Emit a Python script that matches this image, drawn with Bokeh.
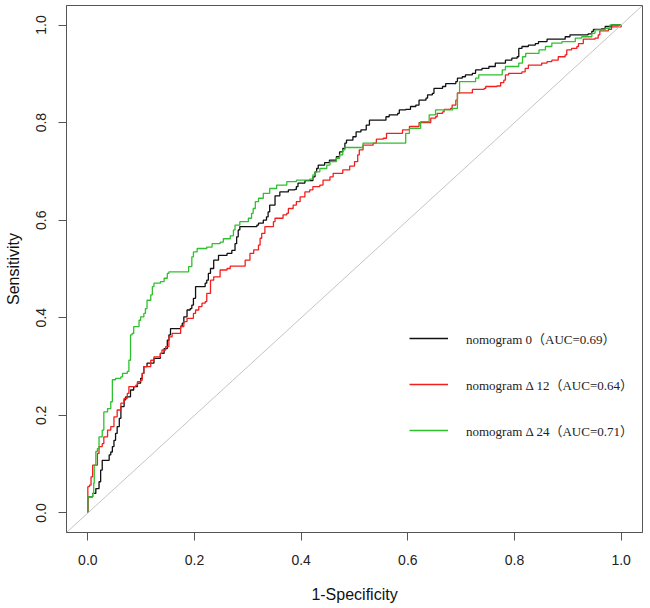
from bokeh.plotting import figure
from bokeh.models import Range1d, FixedTicker, NumeralTickFormatter, Slope, Legend, LegendItem
from bokeh.embed import file_html
from bokeh.resources import INLINE

# ---- data ----
tick_values = [0.0, 0.2, 0.4, 0.6, 0.8, 1.0]
tick_format = "0.0"

legend_labels = ["nomogram 0（AUC=0.69）", "nomogram Δ 12（AUC=0.64）", "nomogram Δ 24（AUC=0.71）"]
series_colors = ["#111111", "#f21f1f", "#2ec02e"]

# (1-specificity, sensitivity)
roc_nomo0 = [(0, 0), (0, 0.033), (0.009, 0.040), (0.015, 0.050), (0.021, 0.064), (0.024, 0.088),
             (0.027, 0.108), (0.040, 0.119), (0.043, 0.125), (0.046, 0.136), (0.049, 0.149),
             (0.052, 0.163), (0.055, 0.177), (0.059, 0.194), (0.062, 0.218), (0.068, 0.232),
             (0.071, 0.238), (0.080, 0.252), (0.086, 0.259), (0.093, 0.266), (0.099, 0.276),
             (0.102, 0.286), (0.105, 0.300), (0.111, 0.307), (0.124, 0.317), (0.136, 0.327),
             (0.143, 0.337), (0.149, 0.354), (0.152, 0.365), (0.155, 0.378), (0.174, 0.383),
             (0.177, 0.389), (0.180, 0.402), (0.186, 0.416), (0.192, 0.419), (0.195, 0.426),
             (0.198, 0.440), (0.202, 0.464), (0.220, 0.471), (0.223, 0.477), (0.226, 0.491),
             (0.230, 0.501), (0.236, 0.518), (0.245, 0.528), (0.261, 0.532), (0.270, 0.538),
             (0.276, 0.552), (0.279, 0.566), (0.282, 0.580), (0.285, 0.587), (0.317, 0.590),
             (0.320, 0.594), (0.329, 0.600), (0.335, 0.607), (0.338, 0.617), (0.341, 0.631),
             (0.351, 0.650), (0.360, 0.658), (0.376, 0.662), (0.388, 0.663), (0.391, 0.669),
             (0.394, 0.676), (0.407, 0.681), (0.419, 0.681), (0.422, 0.689), (0.426, 0.699),
             (0.429, 0.706), (0.432, 0.713), (0.444, 0.718), (0.453, 0.723), (0.466, 0.730),
             (0.472, 0.740), (0.478, 0.747), (0.482, 0.758), (0.485, 0.764), (0.497, 0.771),
             (0.503, 0.781), (0.512, 0.785), (0.522, 0.795), (0.528, 0.805), (0.550, 0.805),
             (0.559, 0.812), (0.565, 0.816), (0.581, 0.819), (0.584, 0.826), (0.596, 0.827),
             (0.605, 0.833), (0.615, 0.836), (0.621, 0.846), (0.634, 0.850), (0.637, 0.857),
             (0.646, 0.860), (0.649, 0.870), (0.665, 0.874), (0.671, 0.880), (0.690, 0.884),
             (0.693, 0.891), (0.702, 0.894), (0.708, 0.898), (0.721, 0.901), (0.727, 0.908),
             (0.739, 0.911), (0.752, 0.915), (0.764, 0.922), (0.777, 0.922), (0.783, 0.928),
             (0.795, 0.932), (0.805, 0.935), (0.808, 0.952), (0.814, 0.956), (0.826, 0.959),
             (0.839, 0.962), (0.845, 0.966), (0.861, 0.971), (0.889, 0.971), (0.895, 0.976),
             (0.904, 0.980), (0.938, 0.982), (0.945, 0.987), (0.948, 0.991), (0.963, 0.992),
             (0.970, 0.997), (0.982, 1.0), (1.0, 1.0)]

roc_nomo12 = [(0, 0), (0, 0.054), (0.003, 0.057), (0.006, 0.074), (0.009, 0.098), (0.015, 0.098),
              (0.018, 0.122), (0.021, 0.136), (0.027, 0.142), (0.030, 0.156), (0.037, 0.170),
              (0.043, 0.177), (0.049, 0.197), (0.055, 0.211), (0.062, 0.225), (0.068, 0.235),
              (0.074, 0.245), (0.077, 0.259), (0.090, 0.262), (0.093, 0.269), (0.099, 0.272),
              (0.102, 0.286), (0.105, 0.300), (0.118, 0.313), (0.124, 0.320), (0.136, 0.327),
              (0.139, 0.334), (0.146, 0.341), (0.152, 0.361), (0.158, 0.368), (0.174, 0.382),
              (0.180, 0.392), (0.186, 0.399), (0.198, 0.409), (0.202, 0.416), (0.208, 0.423),
              (0.214, 0.430), (0.220, 0.433), (0.223, 0.450), (0.230, 0.477), (0.236, 0.484),
              (0.248, 0.498), (0.261, 0.501), (0.267, 0.506), (0.292, 0.506), (0.295, 0.518),
              (0.304, 0.532), (0.311, 0.539), (0.320, 0.549), (0.323, 0.563), (0.326, 0.573),
              (0.332, 0.587), (0.348, 0.597), (0.351, 0.604), (0.366, 0.611), (0.373, 0.614),
              (0.376, 0.624), (0.385, 0.631), (0.391, 0.638), (0.398, 0.648), (0.407, 0.658),
              (0.416, 0.662), (0.422, 0.669), (0.435, 0.672), (0.441, 0.682), (0.454, 0.689),
              (0.460, 0.696), (0.478, 0.703), (0.491, 0.711), (0.500, 0.720), (0.506, 0.734),
              (0.509, 0.744), (0.516, 0.754), (0.528, 0.754), (0.535, 0.758), (0.541, 0.766),
              (0.554, 0.768), (0.560, 0.778), (0.590, 0.785), (0.603, 0.792), (0.621, 0.800),
              (0.640, 0.800), (0.643, 0.809), (0.652, 0.812), (0.655, 0.819), (0.665, 0.822),
              (0.668, 0.827), (0.680, 0.829), (0.683, 0.836), (0.690, 0.846), (0.693, 0.861),
              (0.718, 0.861), (0.721, 0.868), (0.743, 0.870), (0.746, 0.874), (0.767, 0.875),
              (0.774, 0.882), (0.780, 0.887), (0.783, 0.898), (0.789, 0.901), (0.814, 0.904),
              (0.820, 0.911), (0.826, 0.918), (0.851, 0.922), (0.861, 0.925), (0.870, 0.928),
              (0.882, 0.935), (0.895, 0.939), (0.898, 0.949), (0.907, 0.952), (0.917, 0.956),
              (0.920, 0.962), (0.929, 0.971), (0.951, 0.973), (0.957, 0.980), (0.960, 0.988),
              (0.976, 0.991), (0.982, 0.996), (1.0, 1.0)]

roc_nomo24 = [(0, 0), (0, 0.033), (0.009, 0.040), (0.011, 0.061), (0.012, 0.098), (0.015, 0.102),
              (0.015, 0.126), (0.018, 0.132), (0.021, 0.156), (0.027, 0.170), (0.030, 0.197),
              (0.030, 0.207), (0.037, 0.214), (0.043, 0.228), (0.046, 0.242), (0.046, 0.273),
              (0.052, 0.276), (0.062, 0.279), (0.065, 0.286), (0.074, 0.290), (0.077, 0.313),
              (0.080, 0.344), (0.080, 0.365), (0.083, 0.368), (0.086, 0.382), (0.096, 0.395),
              (0.099, 0.402), (0.105, 0.409), (0.108, 0.419), (0.111, 0.436), (0.118, 0.447),
              (0.121, 0.464), (0.124, 0.471), (0.136, 0.474), (0.143, 0.481), (0.149, 0.491),
              (0.152, 0.494), (0.186, 0.494), (0.189, 0.505), (0.195, 0.525), (0.198, 0.535),
              (0.205, 0.542), (0.223, 0.545), (0.233, 0.552), (0.248, 0.555), (0.254, 0.562),
              (0.267, 0.568), (0.273, 0.580), (0.276, 0.590), (0.285, 0.597), (0.301, 0.604),
              (0.307, 0.614), (0.310, 0.624), (0.314, 0.638), (0.320, 0.645), (0.329, 0.655),
              (0.341, 0.665), (0.354, 0.672), (0.373, 0.679), (0.391, 0.682), (0.416, 0.684),
              (0.422, 0.693), (0.426, 0.699), (0.435, 0.706), (0.448, 0.713), (0.454, 0.720),
              (0.466, 0.727), (0.472, 0.734), (0.478, 0.744), (0.482, 0.749), (0.510, 0.749),
              (0.516, 0.758), (0.578, 0.758), (0.596, 0.778), (0.603, 0.788), (0.624, 0.802),
              (0.640, 0.816), (0.652, 0.826), (0.684, 0.829), (0.693, 0.860), (0.697, 0.884),
              (0.727, 0.891), (0.733, 0.898), (0.771, 0.898), (0.777, 0.908), (0.783, 0.915),
              (0.808, 0.922), (0.815, 0.935), (0.821, 0.942), (0.846, 0.949), (0.858, 0.956),
              (0.870, 0.963), (0.889, 0.966), (0.914, 0.973), (0.926, 0.976), (0.945, 0.983),
              (0.951, 0.990), (0.970, 0.993), (0.979, 1.0), (1.0, 1.0)]

series = [roc_nomo0, roc_nomo12, roc_nomo24]

# ---- figure ----
SANS = "'Liberation Sans', Arial, sans-serif"
SERIF = "'Liberation Serif', 'Times New Roman', 'Noto Sans CJK SC', serif"

p = figure(width=650, height=608, output_backend="svg", toolbar_location=None,
           x_range=Range1d(-0.04, 1.04), y_range=Range1d(-0.04, 1.04),
           min_border_left=66, min_border_right=8, min_border_top=5, min_border_bottom=76)
p.background_fill_color = "white"
p.border_fill_color = "white"
p.outline_line_color = "#555555"
p.outline_line_width = 1
p.grid.visible = False

for ax in (p.xaxis[0], p.yaxis[0]):
    ax.ticker = FixedTicker(ticks=tick_values)
    ax.formatter = NumeralTickFormatter(format=tick_format)
    ax.minor_tick_line_color = None
    ax.major_tick_out = 8
    ax.major_tick_in = 0
    ax.axis_line_color = "#555555"
    ax.major_tick_line_color = "#555555"
    ax.major_label_text_font = SANS
    ax.major_label_text_font_size = "14px"
    ax.major_label_text_color = "#222222"
    ax.axis_label_text_font = SANS
    ax.axis_label_text_font_size = "16px"
    ax.axis_label_text_font_style = "normal"
    ax.axis_label_text_color = "#111111"

p.xaxis.axis_label = "1-Specificity"
p.yaxis.axis_label = "Sensitivity"
p.xaxis.major_label_standoff = 14
p.xaxis.axis_label_standoff = 18
p.yaxis.major_label_standoff = 12
p.yaxis.axis_label_standoff = 12
p.yaxis.major_label_orientation = "vertical"

# reference diagonal
p.add_layout(Slope(gradient=1, y_intercept=0, line_color="#c4c4c4", line_width=1))

items = []
for pts, col, lab in zip(series, series_colors, legend_labels):
    xs = [a for a, b in pts]
    ys = [b for a, b in pts]
    r = p.step(xs, ys, mode="after", line_color=col, line_width=1.3)
    items.append(LegendItem(label=lab, renderers=[r]))

legend = Legend(items=items, location=(343, 92), border_line_alpha=0, background_fill_alpha=0,
                padding=0, margin=0, spacing=26, glyph_width=39, glyph_height=20,
                label_height=20, label_standoff=18, label_text_font=SERIF,
                label_text_font_size="13px", label_text_color="#222222")
p.add_layout(legend, "center")

open("out.html", "w").write(file_html(p, INLINE))
